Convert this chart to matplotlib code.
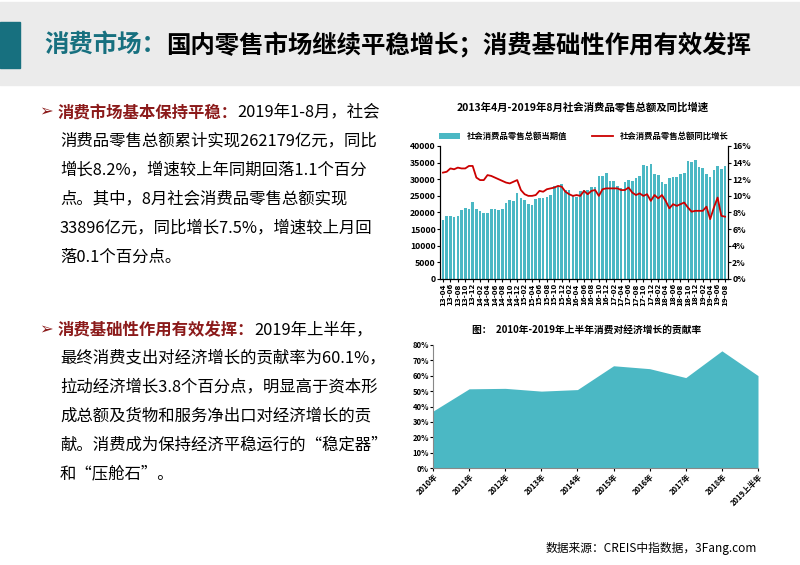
import matplotlib
matplotlib.use('Agg')
import matplotlib.pyplot as plt
import matplotlib.ticker as ticker
from matplotlib.patches import Rectangle
import numpy as np

plt.rcParams['font.family'] = ['Noto Sans CJK SC', 'DejaVu Sans']

# ---- data ----
months = []
for y in range(2013, 2020):
    for m in range(1, 13):
        if (y == 2013 and m < 4) or (y == 2019 and m > 8):
            continue
        months.append('%02d-%02d' % (y % 100, m))

retail = [17600, 18900, 18800, 18500, 18900, 20700, 21300, 21000, 23100,
          21000, 20500, 19700, 19700, 21200, 21100, 20800, 21100, 23000, 23900, 23600, 25800,
          24500, 23800, 22700, 22300, 24200, 24300, 24300, 24800, 25200, 28000, 27900, 28600,
          26900, 26700, 25000, 24600, 26500, 26900, 26800, 27600, 27800, 31000, 30900, 31800,
          29500, 29400, 27900, 27300, 29300, 29800, 29600, 30300, 30900, 34200, 34100, 34700,
          31500, 31400, 29300, 28500, 30400, 30700, 30700, 31500, 32000, 35500, 35300, 35900,
          33700, 33500, 31700, 30600, 32900, 33900, 33100, 33900]
growth = [12.8, 12.9, 13.3, 13.2, 13.4, 13.3, 13.3, 13.6, 13.6,
          12.2, 11.9, 11.9, 12.5, 12.4, 12.2, 12.0, 11.8, 11.6, 11.5, 11.7, 11.9,
          10.7, 10.2, 10.0, 10.0, 10.1, 10.6, 10.5, 10.8, 10.9, 11.0, 11.2, 11.1,
          10.5, 10.2, 10.0, 10.1, 10.0, 10.6, 10.2, 10.6, 10.7, 10.0, 10.8, 10.9,
          10.9, 10.9, 10.9, 10.7, 10.7, 11.0, 10.4, 10.1, 10.3, 10.0, 10.2, 9.4,
          10.1, 9.7, 10.1, 9.4, 8.5, 9.0, 8.8, 9.0, 9.2, 8.6, 8.1, 8.2,
          8.2, 8.2, 8.7, 7.2, 8.6, 9.8, 7.6, 7.5]

years = ['2010年', '2011年', '2012年', '2013年', '2014年', '2015年', '2016年', '2017年', '2018年', '2019上半年']
contrib = [37.0, 51.5, 51.8, 50.0, 51.0, 66.5, 64.6, 58.8, 76.2, 60.1]

teal = '#4BB8C4'
dark_red = '#8B1A1A'
W, H = 800, 565

fig = plt.figure(figsize=(8, 5.65), dpi=100)

# header band
fig.patches.append(Rectangle((0, 1 - 85 / H), 1, 83 / H, transform=fig.transFigure, color='#EBEBEB', zorder=0))
fig.patches.append(Rectangle((0, 1 - 68 / H), 20 / W, 46 / H, transform=fig.transFigure, color='#17707F', zorder=1))


def line_text(x, y, parts, size):
    # draw coloured pieces of text one after the other
    r = fig.canvas.get_renderer()
    for s, c, w in parts:
        t = fig.text(x / W, 1 - y / H, s, color=c, fontsize=size, fontweight=w, va='center')
        bb = t.get_window_extent(renderer=r)
        x += bb.width


line_text(44, 45, [('消费市场：', '#17707F', 'bold'), ('国内零售市场继续平稳增长；消费基础性作用有效发挥', 'black', 'bold')], 17.6)

fs = 11.8
line_text(40, 112, [('➢ ', dark_red, 'normal'), ('消费市场基本保持平稳：', dark_red, 'bold'), ('2019年1-8月，社会', 'black', 'normal')], fs)
body1 = ['消费品零售总额累计实现262179亿元，同比', '增长8.2%，增速较上年同期回落1.1个百分',
         '点。其中，8月社会消费品零售总额实现', '33896亿元，同比增长7.5%，增速较上月回', '落0.1个百分点。']
for i, s in enumerate(body1):
    line_text(60, 141 + 29 * i, [(s, 'black', 'normal')], fs)

line_text(40, 330, [('➢ ', dark_red, 'normal'), ('消费基础性作用有效发挥：', dark_red, 'bold'), ('2019年上半年，', 'black', 'normal')], fs)
body2 = ['最终消费支出对经济增长的贡献率为60.1%，', '拉动经济增长3.8个百分点，明显高于资本形',
         '成总额及货物和服务净出口对经济增长的贡', '献。消费成为保持经济平稳运行的“稳定器”', '和“压舱石”。']
for i, s in enumerate(body2):
    line_text(60, 358 + 29 * i, [(s, 'black', 'normal')], fs)

fig.text(757 / W, 1 - 548 / H, '数据来源：CREIS中指数据，3Fang.com', fontsize=8.5, ha='right', va='center')

# ---- top chart ----
ax = fig.add_axes([440 / W, 1 - 279 / H, 288 / W, 133 / H])
x = np.arange(len(months))
ax.bar(x, retail, width=0.7, color=teal, label='社会消费品零售总额当期值')
ax.set_ylim(0, 40000)
ax.set_xlim(-0.8, len(months) - 0.2)
ax.yaxis.set_major_locator(ticker.MultipleLocator(5000))
ax.set_xticks(x[::2])
ax.set_xticklabels(months[::2], rotation=90, fontsize=5, family='DejaVu Sans')
ax.tick_params(axis='y', labelsize=6.3, length=2, pad=1)
ax.tick_params(axis='x', length=2, pad=1)
ax.spines['top'].set_visible(False)
ax2 = ax.twinx()
ax2.plot(x, growth, color='#CC0000', lw=1.3, label='社会消费品零售总额同比增长')
ax2.set_ylim(0, 16)
ax2.yaxis.set_major_locator(ticker.MultipleLocator(2))
ax2.yaxis.set_major_formatter(ticker.FuncFormatter(lambda v, p: '%d%%' % v))
ax2.tick_params(labelsize=6.3, length=2, pad=1)
ax2.spines['top'].set_visible(False)
for a in (ax, ax2):
    for lb in a.get_yticklabels() + a.get_xticklabels():
        lb.set_fontweight('bold')
h1, l1 = ax.get_legend_handles_labels()
h2, l2 = ax2.get_legend_handles_labels()
ax.legend(h1 + h2, l1 + l2, loc='lower center', bbox_to_anchor=(0.5, 1.0), ncol=2, frameon=False,
          handlelength=2.5, columnspacing=3, borderaxespad=0.2,
          prop={'weight': 'bold', 'size': 6})
fig.text(583 / W, 1 - 107 / H, '2013年4月-2019年8月社会消费品零售总额及同比增速', fontsize=7.5,
         fontweight='bold', ha='center', va='center')

# ---- bottom chart ----
bx = fig.add_axes([433 / W, 1 - 468 / H, 325 / W, 123 / H])
xi = np.arange(len(years))
bx.fill_between(xi, contrib, color=teal, lw=0)
bx.set_xlim(0, len(years) - 1)
bx.set_ylim(0, 80)
bx.yaxis.set_major_locator(ticker.MultipleLocator(10))
bx.yaxis.set_major_formatter(ticker.FuncFormatter(lambda v, p: '%d%%' % v))
bx.set_xticks(xi)
bx.set_xticklabels(years, rotation=45, ha='right', rotation_mode='anchor')
bx.tick_params(labelsize=5.5, length=2, pad=1)
for lb in bx.get_yticklabels() + bx.get_xticklabels():
    lb.set_fontweight('bold')
bx.spines['top'].set_visible(False)
bx.spines['right'].set_visible(False)
for s in ['left', 'bottom']:
    bx.spines[s].set_color('#888888')
fig.text(587 / W, 1 - 330 / H, '图：  2010年-2019年上半年消费对经济增长的贡献率', fontsize=7,
         fontweight='bold', ha='center', va='center')

fig.savefig('out.png', dpi=100)
